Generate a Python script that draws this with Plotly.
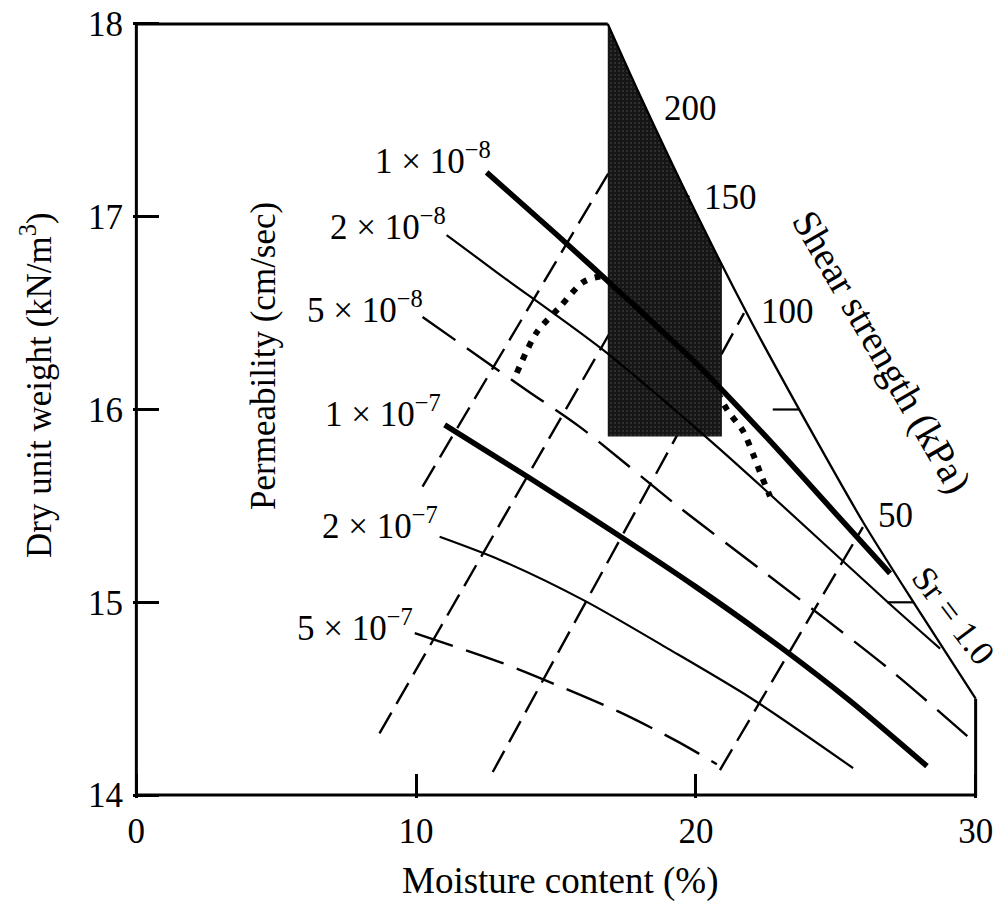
import numpy as np
import plotly.graph_objects as go

# ---------------- data ----------------
# Zero-air-voids boundary (Sr = 1.0)
sr_w = [16.85, 18.0, 20.0, 22.0, 24.0, 26.0, 28.0, 30.0]
sr_gd = [18.0, 17.63, 17.02, 16.45, 15.92, 15.41, 14.95, 14.50]

# Plot frame (open box that meets the Sr = 1.0 line)
frame_w = [16.85, 0, 0, 30, 30]
frame_gd = [18, 18, 14, 14, 14.50]

# Shaded acceptable zone
shade_w_left = 16.85
shade_w_right = 20.93
shade_gd_bottom = 15.86

# Permeability contours (cm/sec)
k1e8_w = [12.52, 15.0, 17.5, 20.0, 22.5, 25.0, 26.94]
k1e8_gd = [17.23, 16.91, 16.58, 16.24, 15.86, 15.46, 15.15]

k2e8_w = [11.09, 12.99, 16.67, 20.5, 22.5, 26.94, 28.73]
k2e8_gd = [16.905, 16.70, 16.31, 15.84, 15.58, 14.99, 14.76]

k5e8_w = [10.23, 13.95, 15.85, 19.43, 22.5, 26.94, 29.98]
k5e8_gd = [16.48, 16.10, 15.91, 15.49, 15.15, 14.65, 14.27]

k1e7_w = [11.02, 14.0, 17.0, 20.0, 23.0, 25.5, 28.26]
k1e7_gd = [15.92, 15.65, 15.37, 15.08, 14.77, 14.49, 14.15]

k2e7_w = [10.84, 13.0, 16.0, 19.0, 22.0, 25.62]
k2e7_gd = [15.34, 15.22, 15.01, 14.76, 14.50, 14.14]

k5e7_w = [9.95, 12.99, 15.21, 17.28, 19.32, 20.75]
k5e7_gd = [14.84, 14.69, 14.56, 14.43, 14.28, 14.16]

perm_labels = ["1 × 10<sup>−8</sup>", "2 × 10<sup>−8</sup>", "5 × 10<sup>−8</sup>",
               "1 × 10<sup>−7</sup>", "2 × 10<sup>−7</sup>", "5 × 10<sup>−7</sup>"]

# Shear strength contours (kPa): straight dashed lines, end points
shear_labels = ["200", "150", "100", "50"]
shear_w0 = [10.23, 8.69, 12.74, 20.86]
shear_gd0 = [15.60, 14.32, 14.12, 14.13]
shear_w1 = [18.2, 19.75, 21.72, 25.97]
shear_gd1 = [17.55, 17.11, 16.50, 15.39]

# Compaction curve (dotted)
comp_w = [13.6, 14.31, 15.13, 15.96, 16.57, 17.6, 19.0, 20.3, 21.11, 21.68, 22.04, 22.36, 22.65]
comp_gd = [16.19, 16.40, 16.53, 16.66, 16.69, 16.68, 16.52, 16.22, 16.0, 15.89, 15.77, 15.65, 15.55]

# Right-hand (mirror) dry unit weight ticks on the Sr = 1.0 boundary
sr_tick_gd = [15, 16]

x_tickvals = [0, 10, 20, 30]
y_tickvals = [14, 15, 16, 17, 18]

# ---------------- figure ----------------
FONT = "Liberation Serif"
FS = 35
BLACK = "#000000"

fig = go.Figure()

def add_line(x, y, width, dash="solid", shape="spline", name=""):
    fig.add_trace(go.Scatter(x=x, y=y, mode="lines", name=name,
                             line=dict(color=BLACK, width=width, dash=dash, shape=shape,
                                       smoothing=0.8 if shape == "spline" else None),
                             hoverinfo="skip", showlegend=False))

# shear strength contours
for i, lab in enumerate(shear_labels):
    add_line([shear_w0[i], shear_w1[i]], [shear_gd0[i], shear_gd1[i]], 2.4,
             dash="24px,10px", shape="linear", name=f"{lab} kPa")

# compaction curve
add_line(comp_w, comp_gd, 6, dash="6px,8px", name="compaction")

# shaded zone bounded above by Sr = 1.0
top_w = np.linspace(shade_w_left, shade_w_right, 15)
top_gd = np.interp(top_w, sr_w, sr_gd)
poly_w = [shade_w_left] + list(top_w) + [shade_w_right, shade_w_left]
poly_gd = [shade_gd_bottom] + list(top_gd) + [shade_gd_bottom, shade_gd_bottom]
fig.add_trace(go.Scatter(x=poly_w, y=poly_gd, mode="lines", fill="toself",
                         fillcolor="#1a1a1a", line=dict(width=0, color="#1a1a1a"),
                         fillpattern=dict(shape=".", bgcolor="#161616", fgcolor="#8a8a8a",
                                          size=4, solidity=0.12),
                         hoverinfo="skip", showlegend=False))

# permeability contours
add_line(k1e8_w, k1e8_gd, 5.5, name="1e-8")
add_line(k2e8_w, k2e8_gd, 2.2, name="2e-8")
add_line(k5e8_w, k5e8_gd, 2.4, dash="40px,14px", name="5e-8")
add_line(k1e7_w, k1e7_gd, 5.5, name="1e-7")
add_line(k2e7_w, k2e7_gd, 2.2, name="2e-7")
add_line(k5e7_w, k5e7_gd, 2.4, dash="40px,14px", name="5e-7")

# Sr = 1.0 line and frame
add_line(sr_w, sr_gd, 2.3, name="Sr=1.0")
add_line(frame_w, frame_gd, 3, shape="linear", name="frame")

# mirror ticks on the Sr boundary
sr_w_rev = sr_w[::-1]
sr_gd_rev = sr_gd[::-1]
tx, ty = [], []
for g in sr_tick_gd:
    w_end = float(np.interp(g, sr_gd_rev, sr_w_rev))
    tx += [w_end - 0.95, w_end, None]
    ty += [g, g, None]
add_line(tx, ty, 2.2, shape="linear", name="ticks")

annotations = []
# permeability labels (right anchored at curve starts)
perm_lab_w = [12.74, 11.13, 10.30, 10.95, 10.84, 9.95]
perm_lab_gd = [17.30, 16.96, 16.53, 15.99, 15.41, 14.88]
for t, xw, yg in zip(perm_labels, perm_lab_w, perm_lab_gd):
    annotations.append(dict(x=xw, y=yg, xref="x", yref="y", text=t, showarrow=False,
                            xanchor="right", yanchor="middle",
                            font=dict(family=FONT, size=FS, color=BLACK)))

# shear strength labels
shear_lab_w = [19.79, 21.22, 23.26, 27.12]
shear_lab_gd = [17.56, 17.10, 16.51, 15.45]
for t, xw, yg in zip(shear_labels, shear_lab_w, shear_lab_gd):
    annotations.append(dict(x=xw, y=yg, xref="x", yref="y", text=t, showarrow=False,
                            xanchor="center", yanchor="middle",
                            font=dict(family=FONT, size=FS, color=BLACK)))

annotations += [
    dict(x=26.66, y=16.30, xref="x", yref="y", text="Shear strength (kPa)", textangle=60,
         showarrow=False, font=dict(family=FONT, size=39, color=BLACK)),
    dict(x=29.18, y=14.93, xref="x", yref="y", text="Sr = 1.0", textangle=53,
         showarrow=False, font=dict(family=FONT, size=FS, color=BLACK)),
    dict(x=4.54, y=16.28, xref="x", yref="y", text="Permeability (cm/sec)", textangle=-90,
         showarrow=False, font=dict(family=FONT, size=FS, color=BLACK)),
    dict(x=-0.1147, y=0.5315, xref="paper", yref="paper", text="Dry unit weight (kN/m<sup>3</sup>)",
         textangle=-90, showarrow=False, xanchor="center", yanchor="middle",
         font=dict(family=FONT, size=FS, color=BLACK)),
    dict(x=0.5047, y=-0.107, xref="paper", yref="paper", text="Moisture content (%)",
         showarrow=False, xanchor="center", yanchor="middle",
         font=dict(family=FONT, size=37, color=BLACK)),
]

fig.update_layout(
    width=1001, height=911, autosize=False,
    margin=dict(l=133, r=22, t=21, b=113, pad=0),
    paper_bgcolor="white", plot_bgcolor="white",
    showlegend=False,
    annotations=annotations,
    xaxis=dict(range=[-0.12, 30.12], showgrid=False, zeroline=False, showline=False,
               automargin=False,
               tickmode="array", tickvals=x_tickvals, ticktext=[str(v) for v in x_tickvals],
               ticks="inside", ticklen=24, tickwidth=2.5, tickcolor=BLACK,
               ticklabelstandoff=9,
               tickfont=dict(family=FONT, size=FS, color=BLACK)),
    yaxis=dict(range=[13.985, 18.015], showgrid=False, zeroline=False, showline=False,
               automargin=False,
               tickmode="array", tickvals=y_tickvals, ticktext=[str(v) for v in y_tickvals],
               ticks="inside", ticklen=26, tickwidth=2.5, tickcolor=BLACK,
               ticklabelstandoff=9,
               tickfont=dict(family=FONT, size=FS, color=BLACK)),
)

fig.write_html("out.html")
